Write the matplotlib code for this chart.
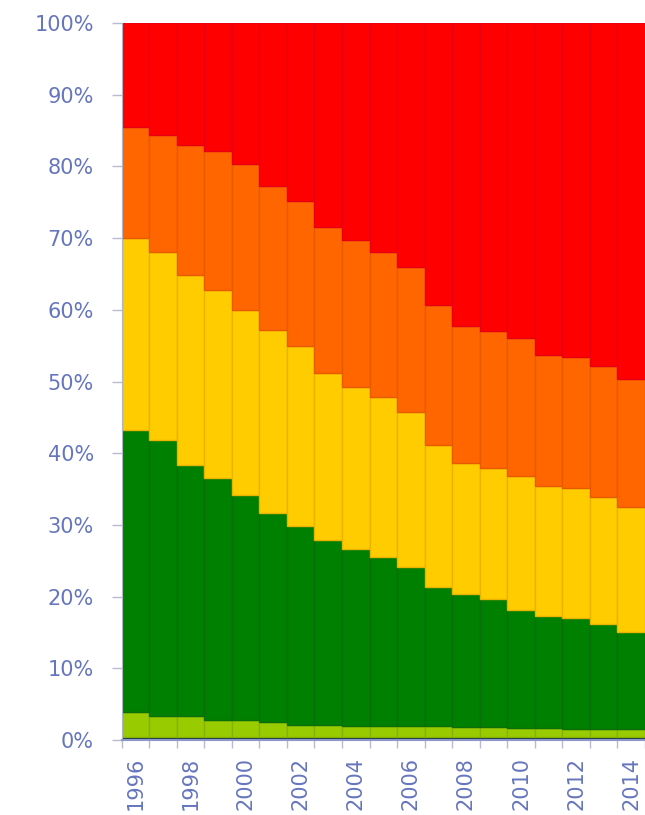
import matplotlib
matplotlib.use("Agg")
import matplotlib.pyplot as plt
import numpy as np

years = list(range(1996, 2015))

# Cumulative upper boundaries of each band (percent of total)
navy_top = [0.4] * 19
lime_top = [3.9, 3.3, 3.3, 2.8, 2.8, 2.5, 2.1, 2.1, 2.0, 2.0, 1.9, 1.9, 1.8, 1.8, 1.7, 1.7, 1.6, 1.6, 1.5]
green_top = [43.2, 41.8, 38.3, 36.5, 34.2, 31.6, 29.8, 27.9, 26.6, 25.5, 24.1, 21.3, 20.3, 19.6, 18.2, 17.3, 17.0, 16.2, 15.0]
yellow_top = [70.0, 68.1, 64.9, 62.8, 60.0, 57.2, 54.9, 51.2, 49.3, 47.9, 45.7, 41.2, 38.7, 38.0, 36.8, 35.4, 35.2, 33.9, 32.5]
orange_top = [85.5, 84.4, 83.0, 82.1, 80.4, 77.3, 75.2, 71.5, 69.8, 68.1, 66.0, 60.6, 57.7, 57.1, 56.0, 53.7, 53.4, 52.1, 50.4]
red_top = [100.0] * 19

tops = [navy_top, lime_top, green_top, yellow_top, orange_top, red_top]
colors = ["#0B2A5A", "#99CC00", "#008000", "#FFCC00", "#FF6600", "#FF0000"]
edges = ["#0B2A5A", "#88B000", "#0A6E0A", "#E8B400", "#E85A00", "#E60012"]

fig = plt.figure(figsize=(6.45, 8.15), dpi=100)
ax = fig.add_axes([121.7 / 645, 1 - 740 / 815, 1 - 121.7 / 645, (740 - 23) / 815])

x = np.arange(len(years))
prev = np.zeros(len(years))
for top, c, e in zip(tops, colors, edges):
    top = np.array(top, dtype=float)
    ax.bar(x, top - prev, bottom=prev, width=1.0, color=c, edgecolor=e, linewidth=1.0)
    prev = top

ax.set_xlim(-0.5, -0.5 + (645 - 121.7) / 28.15)
ax.set_ylim(0, 100)

label_color = "#6676BE"
ax.set_yticks(np.arange(0, 101, 10))
ax.set_yticklabels([f"{v}%" for v in range(0, 101, 10)], fontsize=15, color=label_color)
ax.tick_params(axis="y", length=7, width=1, color="#B8BCD0", pad=13)

ax.set_xticks(x[::2])
ax.set_xticklabels([str(y) for y in years[::2]], rotation=90, fontsize=15,
                   color=label_color, va="top")
ax.set_xticks(np.arange(-0.5, len(years), 1.0), minor=True)
ax.tick_params(axis="x", which="major", length=0, pad=12)
ax.tick_params(axis="x", which="minor", length=6, width=1, color="#B8BCD0")

for side in ["top", "right"]:
    ax.spines[side].set_visible(False)
ax.spines["left"].set_color("#B0B4C8")
ax.spines["bottom"].set_color("#8C96C8")
ax.spines["bottom"].set_linewidth(1.5)

fig.savefig("out.png", dpi=100)
